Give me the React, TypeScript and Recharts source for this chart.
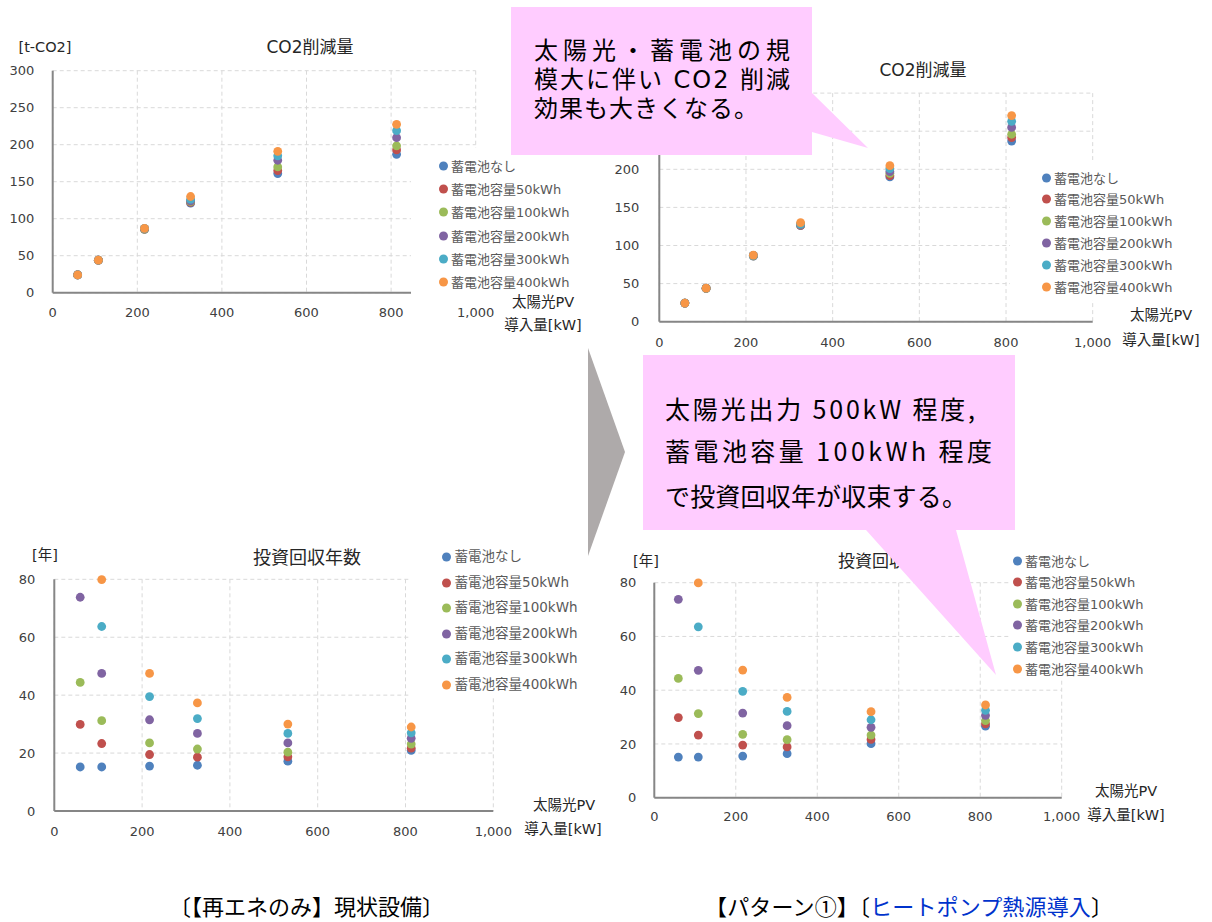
import React from 'react';
import { ScatterChart, Scatter, XAxis, YAxis, CartesianGrid, Legend } from 'recharts';

// ---------- data ----------
const pvKW = [59, 108, 217, 326, 532, 813];
const seriesNames = ['蓄電池なし', '蓄電池容量50kWh', '蓄電池容量100kWh', '蓄電池容量200kWh', '蓄電池容量300kWh', '蓄電池容量400kWh'];
const seriesColors = ['#4F81BD', '#C0504D', '#9BBB59', '#8064A2', '#4BACC6', '#F79646'];
const xTicks = [0, 200, 400, 600, 800, 1000];
const co2Ticks = [0, 50, 100, 150, 200, 250, 300];
const yearTicks = [0, 20, 40, 60, 80];

// CO2 reduction [t-CO2] — current equipment (renewables only)
const co2CurNone = [24, 44, 85.5, 121, 161, 187];
const co2Cur50 = [24, 44, 86, 122, 165, 193];
const co2Cur100 = [24, 44, 86, 123, 170, 198.5];
const co2Cur200 = [24, 44, 86.5, 124, 179, 209.5];
const co2Cur300 = [24, 44, 87, 126, 185, 219];
const co2Cur400 = [24, 44, 87, 130, 191, 227.5];

// CO2 reduction [t-CO2] — pattern 1 (heat pump)
const co2HpNone = [24.5, 43.8, 86, 126, 190, 237];
const co2Hp50 = [24.5, 43.8, 86.5, 126.5, 191.7, 241.6];
const co2Hp100 = [24.5, 43.8, 86.5, 127, 194.7, 246];
const co2Hp200 = [24.5, 44, 87, 127.5, 197, 255];
const co2Hp300 = [24.5, 44, 87, 128, 201, 263];
const co2Hp400 = [24.5, 44, 87.5, 130, 204.8, 270.5];

// Payback years — current equipment
const payCurNone = [15.2, 15.2, 15.5, 15.8, 17.2, 20.9];
const payCur50 = [29.9, 23.3, 19.5, 18.6, 18.7, 21.7];
const payCur100 = [44.4, 31.2, 23.5, 21.4, 20.3, 23.1];
const payCur200 = [73.8, 47.5, 31.5, 26.8, 23.5, 25.1];
const payCur300 = [null, 63.7, 39.5, 31.9, 26.8, 27];
const payCur400 = [null, 79.9, 47.5, 37.3, 30, 29];

// Payback years — pattern 1 (heat pump)
const payHpNone = [15.1, 15.1, 15.5, 16.4, 20.1, 26.6];
const payHp50 = [29.8, 23.3, 19.6, 18.9, 21.7, 27.5];
const payHp100 = [44.4, 31.3, 23.6, 21.6, 23.3, 28.7];
const payHp200 = [73.8, 47.4, 31.5, 26.8, 26.2, 30.6];
const payHp300 = [null, 63.6, 39.6, 32.1, 29, 32.5];
const payHp400 = [null, 79.9, 47.5, 37.3, 32, 34.5];

const FONT = '"DejaVu Sans", "Noto Sans CJK JP", sans-serif';
const JP = '"Noto Sans CJK JP", "DejaVu Sans", sans-serif';

const toPoints = (vals: (number | null)[]) =>
  pvKW.map((x, i) => ({ x, y: vals[i] })).filter((p) => p.y !== null && p.y !== undefined);

const fmt = (v: number) => v.toLocaleString('en-US');

type LegendBox = { left: number; top: number; width: number; height: number; pad: number; gap: number; markerX: number; textX: number; fontSize: number };

type ChartProps = {
  left: number; top: number; width: number; height: number;
  margin: { top: number; right: number; bottom: number; left: number };
  yWidth: number; yMax: number; yTicks: number[];
  yTickMargin: number; xTickMargin: number;
  yLabelHideAbove?: number;
  series: (number | null)[][];
  legend: LegendBox;
};

function PVScatter(p: ChartProps) {
  const lg = p.legend;
  const legendContent = () => (
    <div style={{ paddingTop: lg.pad, fontFamily: FONT, fontSize: lg.fontSize, color: '#595959' }}>
      {seriesNames.map((n, i) => (
        <div key={n} style={{ position: 'relative', height: lg.gap }}>
          <span style={{ position: 'absolute', left: lg.markerX - 4.5, top: '50%', transform: 'translateY(-50%)', width: 9, height: 9, borderRadius: '50%', background: seriesColors[i] }} />
          <span style={{ position: 'absolute', left: lg.textX, top: '50%', transform: 'translateY(-50%)', whiteSpace: 'nowrap', lineHeight: 1 }}>{n}</span>
        </div>
      ))}
    </div>
  );
  // y tick labels; labels that the reference hides under the callout are not drawn
  const yTick = (t: any) => {
    const v = t.payload?.value;
    if (p.yLabelHideAbove !== undefined && v > p.yLabelHideAbove) return <g />;
    return (
      <text x={t.x} y={t.y} dy="0.355em" textAnchor="end" fill="#404040" fontSize={13} fontFamily={FONT}>{fmt(v)}</text>
    );
  };
  return (
    <div style={{ position: 'absolute', left: p.left, top: p.top, width: p.width, height: p.height }}>
      <ScatterChart width={p.width} height={p.height} margin={p.margin}>
        <CartesianGrid strokeDasharray="4 3" stroke="#D9D9D9" strokeWidth={1} />
        <XAxis type="number" dataKey="x" domain={[0, 1000]} ticks={xTicks} tickFormatter={fmt}
          axisLine={{ stroke: '#868686', strokeWidth: 2 }} tickLine={false} tickSize={0} tickMargin={p.xTickMargin}
          height={30} tick={{ fill: '#404040', fontSize: 13, fontFamily: FONT }} interval={0} />
        <YAxis type="number" dataKey="y" domain={[0, p.yMax]} ticks={p.yTicks} width={p.yWidth}
          axisLine={{ stroke: '#868686', strokeWidth: 2 }} tickLine={false} tickSize={0} tickMargin={p.yTickMargin}
          tick={yTick} interval={0} />
        <Legend layout="vertical" align="center" verticalAlign="middle" content={legendContent}
          wrapperStyle={{ position: 'absolute', left: lg.left, top: lg.top, width: lg.width, height: lg.height, background: '#FFFFFF' }} />
        {p.series.map((vals, i) => (
          <Scatter key={seriesNames[i]} name={seriesNames[i]} data={toPoints(vals)} fill={seriesColors[i]} isAnimationActive={false}
            shape={(s: any) => <circle cx={s.cx} cy={s.cy} r={4.4} fill={seriesColors[i]} />} />
        ))}
      </ScatterChart>
    </div>
  );
}

export default function App() {
  return (
    <div style={{ position: 'absolute', left: 0, top: 0, width: 1212, height: 922, background: '#FFFFFF', overflow: 'hidden' }}>
      <PVScatter left={0} top={0} width={600} height={340}
        margin={{ top: 70.7, right: 124.3, bottom: 17.3, left: 0 }} yWidth={52.7}
        yMax={300} yTicks={co2Ticks} yTickMargin={18.3} xTickMargin={15}
        series={[co2CurNone, co2Cur50, co2Cur100, co2Cur200, co2Cur300, co2Cur400]}
        legend={{ left: 411, top: 148, width: 180, height: 148, pad: 6, gap: 23.3, markerX: 32, textX: 40, fontSize: 13 }} />
      <PVScatter left={600} top={0} width={612} height={360}
        margin={{ top: 93.1, right: 119.3, bottom: 8.3, left: 0 }} yWidth={59.3}
        yMax={300} yTicks={co2Ticks} yTickMargin={20} xTickMargin={16} yLabelHideAbove={200}
        series={[co2HpNone, co2Hp50, co2Hp100, co2Hp200, co2Hp300, co2Hp400]}
        legend={{ left: 410, top: 160, width: 195, height: 140, pad: 6.8, gap: 21.8, markerX: 36, textX: 44, fontSize: 13 }} />
      <PVScatter left={0} top={540} width={600} height={320}
        margin={{ top: 39.3, right: 106.7, bottom: 19, left: 0 }} yWidth={54.3}
        yMax={80} yTicks={yearTicks} yTickMargin={19} xTickMargin={15.5}
        series={[payCurNone, payCur50, payCur100, payCur200, payCur300, payCur400]}
        legend={{ left: 411, top: 2, width: 176, height: 156, pad: 2.5, gap: 25.5, markerX: 35.6, textX: 43.6, fontSize: 13.5 }} />
      <PVScatter left={600} top={540} width={612} height={320}
        margin={{ top: 42.7, right: 150.3, bottom: 32.3, left: 0 }} yWidth={54.3}
        yMax={80} yTicks={yearTicks} yTickMargin={18} xTickMargin={14.5}
        series={[payHpNone, payHp50, payHp100, payHp200, payHp300, payHp400]}
        legend={{ left: 410, top: 6, width: 195, height: 132, pad: 3.9, gap: 21.6, markerX: 7.4, textX: 15, fontSize: 13 }} />

      <svg width={1212} height={922} style={{ position: 'absolute', left: 0, top: 0, pointerEvents: 'none' }}>
        {/* chart titles and axis labels */}
        <g fontFamily={FONT} fill="#262626">
          <text x={310} y={47} fontSize={17} textAnchor="middle" dominantBaseline="central">CO2削減量</text>
          <text x={45} y={47} fontSize={14.5} textAnchor="middle" dominantBaseline="central">[t-CO2]</text>
          <text x={543} y={302} fontSize={14.5} textAnchor="middle" dominantBaseline="central">太陽光PV</text>
          <text x={543} y={325} fontSize={14.5} textAnchor="middle" dominantBaseline="central">導入量[kW]</text>

          <text x={923} y={70} fontSize={17} textAnchor="middle" dominantBaseline="central">CO2削減量</text>
          <text x={1161} y={315} fontSize={14.5} textAnchor="middle" dominantBaseline="central">太陽光PV</text>
          <text x={1161} y={340} fontSize={14.5} textAnchor="middle" dominantBaseline="central">導入量[kW]</text>

          <text x={307} y={557} fontSize={18} textAnchor="middle" dominantBaseline="central">投資回収年数</text>
          <text x={45} y={555} fontSize={14.5} textAnchor="middle" dominantBaseline="central">[年]</text>
          <text x={564} y={805} fontSize={14.5} textAnchor="middle" dominantBaseline="central">太陽光PV</text>
          <text x={563} y={829} fontSize={14.5} textAnchor="middle" dominantBaseline="central">導入量[kW]</text>

          <text x={889} y={561} fontSize={17} textAnchor="middle" dominantBaseline="central">投資回収年数</text>
          <text x={646} y={561} fontSize={14.5} textAnchor="middle" dominantBaseline="central">[年]</text>
          <text x={1126} y={791} fontSize={14.5} textAnchor="middle" dominantBaseline="central">太陽光PV</text>
          <text x={1126} y={815} fontSize={14.5} textAnchor="middle" dominantBaseline="central">導入量[kW]</text>
        </g>

        {/* gray arrow */}
        <polygon points="588,348 625,452 588,556" fill="#AEAAAA" />

        {/* callout 1 */}
        <polygon points="511,7 812,7 812,93 868,148 812,132 812,155 511,155" fill="#FFCCFF" />
        <g fontFamily={FONT} fontSize={24} fill="#000000">
          <text x={534} y={51} dominantBaseline="central" textLength={256} lengthAdjust="spacing">太陽光・蓄電池の規</text>
          <text x={534} y={80} dominantBaseline="central" textLength={256} lengthAdjust="spacing">模大に伴い CO2 削減</text>
          <text x={534} y={109} dominantBaseline="central" textLength={224} lengthAdjust="spacing">効果も大きくなる。</text>
        </g>

        {/* callout 2 */}
        <polygon points="643,355 1015,355 1015,530 956,530 996,675 866,530 643,530" fill="#FFCCFF" />
        <g fontFamily={JP} fontSize={25} fill="#000000">
          <text x={665} y={408} dominantBaseline="central" textLength={310} lengthAdjust="spacing">太陽光出力 500kW 程度,</text>
          <text x={665} y={450} dominantBaseline="central" textLength={327} lengthAdjust="spacing">蓄電池容量 100kWh 程度</text>
          <text x={665} y={495} dominantBaseline="central" textLength={302} lengthAdjust="spacing">で投資回収年が収束する。</text>
        </g>

        {/* captions */}
        <g fontFamily={JP} fontSize={22} fill="#000000">
          <text x={169} y={905} dominantBaseline="central">〔【再エネのみ】現状設備〕</text>
          <text x={705} y={905} dominantBaseline="central" textLength={408} lengthAdjust="spacing">
            【パターン①】〔<tspan fill="#0033CC">ヒートポンプ熱源導入</tspan>〕
          </text>
        </g>
      </svg>
    </div>
  );
}
